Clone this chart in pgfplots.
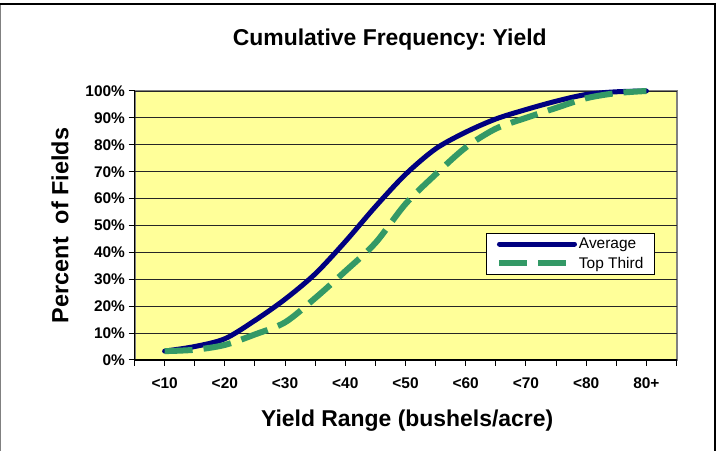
\documentclass[border=0pt]{standalone}
\usepackage{pgfplots}
\pgfplotsset{compat=1.18}
\usepackage{fontspec}
\setmainfont{Liberation Sans}

\definecolor{avgnavy}{HTML}{000080}
\definecolor{topgreen}{HTML}{339966}
\definecolor{plotyellow}{HTML}{FFFF99}

% cumulative share of fields, by yield class (x = 1 is <10, ..., x = 9 is 80+)
\pgfplotstableread{
x    avg   top
1    3.3   3.3
1.5  5.0   3.8
2    7.9   5.6
2.5  14.7  9.5
3    22.6  14.0
3.5  32.0  23.0
4    44.0  33.0
4.5  57.0  43.5
5    69.0  58.0
5.5  78.5  69.0
6    84.7  79.0
6.5  89.6  86.0
7    93.1  90.0
7.5  96.2  93.7
8    98.7  97.3
8.5  99.7  99.2
9    100   100
}\yielddata

\begin{document}
\frenchspacing
\begin{tikzpicture}[x=1bp,y=1bp]
\useasboundingbox (0,0) rectangle (723,451);
% chart frame
\draw[line width=1.2bp, gray] (0.6,0) -- (0.6,447);
\draw[line width=1.5bp] (0,447) -- (715,447) -- (715,0);
\begin{axis}[
  at={(134.5bp,91bp)}, anchor=south west,
  scale only axis, width=542bp, height=269bp,
  xmin=0.5, xmax=9.5, ymin=0, ymax=100,
  axis lines*=left,
  axis line style={line width=1.3bp, black},
  axis background/.style={fill=plotyellow, draw=gray, line width=2bp},
  tick align=outside,
  major tick length=6bp, minor tick length=6bp,
  every tick/.style={black, line width=1bp},
  minor tick style={black, line width=1bp},
  xtick={1,...,9},
  xticklabels={<10,<20,<30,<40,<50,<60,<70,<80,80+},
  minor xtick={0.5,1.5,...,9.5},
  ytick={0,10,...,100},
  yticklabels={0\%,10\%,20\%,30\%,40\%,50\%,60\%,70\%,80\%,90\%,100\%},
  ymajorgrids,
  major grid style={black!85, line width=0.8bp},
  ticklabel style={font=\fontsize{15.5}{18}\selectfont\bfseries},
  xticklabel style={yshift=-8bp},
  title={Cumulative Frequency: Yield},
  title style={at={(axis description cs:0.471,1.148)}, anchor=base,
    font=\fontsize{23}{27}\selectfont\bfseries},
  xlabel={Yield Range (bushels/acre)},
  xlabel style={at={(axis description cs:0.503,-0.246)}, anchor=base,
    font=\fontsize{23}{27}\selectfont\bfseries},
  ylabel={Percent\ \ of Fields},
  ylabel style={at={(axis description cs:-0.1375,0.5)}, anchor=center, rotate=0,
    font=\fontsize{23.5}{27}\selectfont\bfseries},
  legend style={at={(0.6485,0.472)}, anchor=north west,
    draw=black, line width=1bp, fill=white,
    font=\fontsize{15.5}{18}\selectfont,
    inner xsep=10bp, inner ysep=3bp, row sep=4bp,
    nodes={inner sep=1.5bp}},
  legend cell align=left,
  legend image code/.code={\draw[#1] (0bp,0bp) -- (75bp,0bp);},
  clip=false,
]
\addplot[avgnavy, line width=5bp, smooth, tension=0.5, line cap=round]
  table[x=x, y=avg] {\yielddata};
\addlegendentry{Average}
\addplot[topgreen, line width=6bp, smooth, tension=0.5,
  dash pattern=on 28bp off 11bp]
  table[x=x, y=top] {\yielddata};
\addlegendentry{Top Third}
\end{axis}
\end{tikzpicture}
\end{document}
